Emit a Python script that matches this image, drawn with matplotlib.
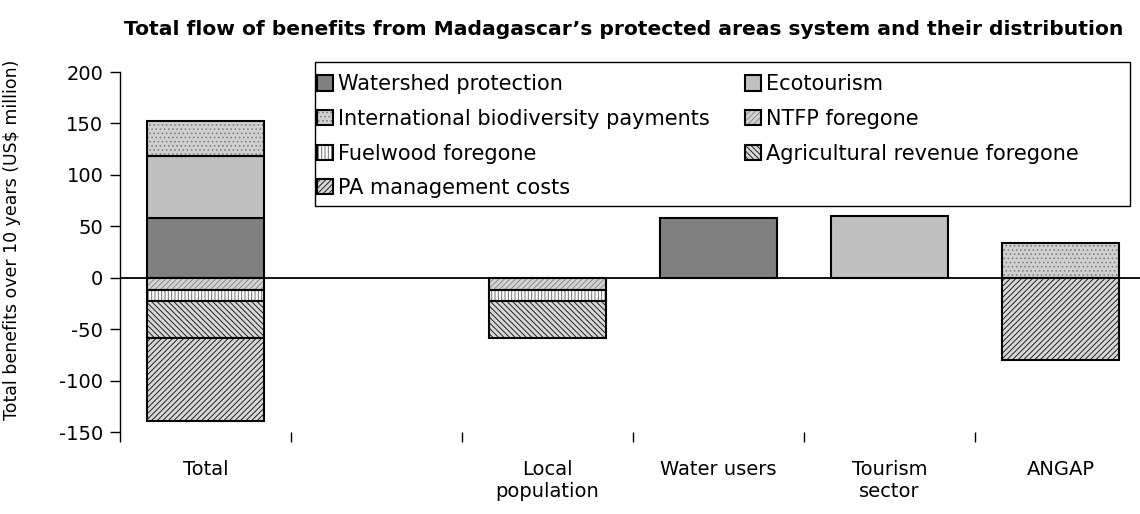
import matplotlib
matplotlib.use("Agg")
import matplotlib.pyplot as plt
from matplotlib.patches import Rectangle
import numpy as np

plt.rcParams['font.family'] = ['DejaVu Sans']
plt.rcParams['hatch.linewidth'] = 0.7

categories = ["Total", "", "Local\npopulation", "Water users", "Tourism\nsector", "ANGAP"]
series_names = ["Watershed protection", "Ecotourism", "International biodiversity payments",
                "NTFP foregone", "Fuelwood foregone", "Agricultural revenue foregone",
                "PA management costs"]
watershed = [58, 0, 0, 58, 0, 0]
ecotourism = [60, 0, 0, 0, 60, 0]
intl_payments = [34, 0, 0, 0, 0, 34]
ntfp = [-11.5, 0, -11.5, 0, 0, 0]
fuelwood = [-11.5, 0, -11.5, 0, 0, 0]
agri = [-36, 0, -36, 0, 0, 0]
pa_costs = [-80, 0, 0, 0, 0, -80]

series = [watershed, ecotourism, intl_payments, ntfp, fuelwood, agri, pa_costs]
styles = [
    dict(facecolor="#808080", hatch=None, hc="black"),
    dict(facecolor="#c0c0c0", hatch=None, hc="black"),
    dict(facecolor="#d0d0d0", hatch="....", hc="#808080"),
    dict(facecolor="#d4d4d4", hatch="//////", hc="#8a8a8a"),
    dict(facecolor="white", hatch="|||||", hc="#707070"),
    dict(facecolor="#d8d8d8", hatch="\\\\\\\\\\\\", hc="#202020"),
    dict(facecolor="#d8d8d8", hatch="//////", hc="#202020"),
]

W, H = 1140, 514
fig = plt.figure(figsize=(W/100, H/100), dpi=100)
ax = fig.add_axes([120/W, 1-432/H, 1026/W, 360/H])

x = np.arange(len(categories))
pos_base = np.zeros(len(categories))
neg_base = np.zeros(len(categories))
handles = []
for name, vals, st in zip(series_names, series, styles):
    vals = np.array(vals, dtype=float)
    base = np.where(vals >= 0, pos_base, neg_base)
    mask = vals != 0
    b = ax.bar(x[mask], vals[mask], bottom=base[mask], width=0.68,
               facecolor=st["facecolor"], edgecolor="black", linewidth=1.5,
               hatch=st["hatch"], label=name)
    if st["hatch"]:
        for p in b.patches:
            p._hatch_color = matplotlib.colors.to_rgba(st["hc"])
    handles.append(b)
    pos_base = np.where(vals > 0, pos_base + vals, pos_base)
    neg_base = np.where(vals < 0, neg_base + vals, neg_base)

ax.axhline(0, color="black", linewidth=1.3, zorder=3)
ax.set_xlim(-0.5, 5.5)
ax.set_ylim(-150, 200)
ax.set_yticks([-150, -100, -50, 0, 50, 100, 150, 200])
ax.set_yticklabels(["-150", "-100", "-50", "0", "50", "100", "150", "200"])
ax.tick_params(axis="y", labelsize=14, length=7, direction="out", width=1, pad=5)
ax.set_xticks(x)
ax.set_xticklabels(categories, fontsize=14)
ax.tick_params(axis="x", length=0, pad=20)
ax.set_xticks(np.arange(-0.5, 5.5, 1.0), minor=True)
ax.tick_params(axis="x", which="minor", length=7, width=1, direction="out")
for s in ["top", "right", "bottom"]:
    ax.spines[s].set_visible(False)
ax.spines["left"].set_linewidth(1)
ax.set_ylabel("Total benefits over 10 years (US$ million)", fontsize=12.5)
ax.yaxis.set_label_coords(-99/1026, 0.533)

fig.suptitle("Total flow of benefits from Madagascar\u2019s protected areas system and their distribution",
             fontsize=14.6, fontweight="bold", x=0.547, y=0.962)

# legend frame drawn as a box in figure coordinates
fig.patches.append(Rectangle((315/W, 1-206/H), (1130-315)/W, (206-62)/H,
                             transform=fig.transFigure, facecolor="white",
                             edgecolor="black", linewidth=1, zorder=5))

# legend entries ordered so that rows read left-to-right as in the reference
order = [0, 2, 4, 6, 1, 3, 5]
leg = fig.legend(handles=[handles[i] for i in order], labels=[series_names[i] for i in order],
                 ncol=2, loc="upper left", bbox_to_anchor=(308/W, 1-65/H),
                 borderaxespad=0.0,
                 fontsize=15, frameon=False,
                 handlelength=0.75, handleheight=0.75, handletextpad=0.25,
                 columnspacing=1.7, labelspacing=0.7, borderpad=0.45)
leg.set_zorder(6)
fig.savefig("out.png", dpi=100)
